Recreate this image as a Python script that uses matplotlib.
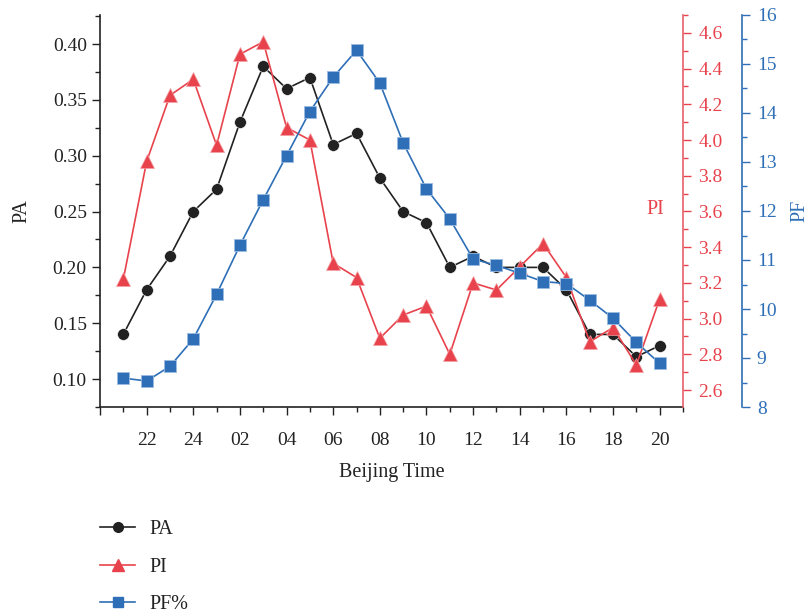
import matplotlib
matplotlib.use("Agg")
import matplotlib.pyplot as plt
from matplotlib.ticker import MultipleLocator, FixedLocator
from matplotlib.lines import Line2D

plt.rcParams['font.family'] = ['Liberation Serif', 'DejaVu Serif']

# hours 21 .. 20 (next day)
hours = ['21', '22', '23', '24', '01', '02', '03', '04', '05', '06', '07', '08',
         '09', '10', '11', '12', '13', '14', '15', '16', '17', '18', '19', '20']
tick_labels = ['', '22', '24', '02', '04', '06', '08', '10', '12', '14', '16', '18', '20']

pa = [0.14, 0.18, 0.21, 0.25, 0.27, 0.33, 0.38, 0.36, 0.37, 0.31, 0.32, 0.28,
      0.25, 0.24, 0.20, 0.21, 0.20, 0.20, 0.20, 0.18, 0.14, 0.14, 0.12, 0.13]
pi = [3.22, 3.88, 4.25, 4.34, 3.97, 4.48, 4.55, 4.07, 4.00, 3.31, 3.23, 2.89,
      3.02, 3.07, 2.80, 3.20, 3.16, 3.29, 3.42, 3.23, 2.87, 2.95, 2.74, 3.11]
pf = [8.59, 8.53, 8.83, 9.39, 10.30, 11.30, 12.23, 13.13, 14.03, 14.73, 15.28, 14.61,
      13.39, 12.45, 11.84, 11.02, 10.89, 10.73, 10.56, 10.52, 10.18, 9.81, 9.32, 8.89]

black = '#222222'
red = '#e8434c'
blue = '#2e6fb7'

fig = plt.figure(figsize=(8.09, 6.14), dpi=100)
ax = fig.add_axes([100/809, 1 - 407/614, 583/809, 392/614])
ax2 = ax.twinx()
ax3 = ax.twinx()
ax3.spines['right'].set_position(('axes', 1 + 58.5/583))

x = list(range(len(hours)))
ax.plot(x, pa, color=black, lw=1.2, marker='o', ms=8.5, mfc=black, mec='white', mew=0.4, zorder=3)
ax2.plot(x, pi, color=red, lw=1.2, marker='^', ms=9.5, mfc=red, mec='#f3a0a4', mew=0.5)
ax3.plot(x, pf, color=blue, lw=1.2, marker='s', ms=8, mfc=blue, mec='#9bbbe0', mew=0.6)

ax.set_xlim(-1, 24)
ax.set_ylim(0.075, 0.426)
ax2.set_ylim(2.505, 4.70)
ax3.set_ylim(8, 16)

ax.xaxis.set_major_locator(FixedLocator(list(range(-1, 24, 2))))
ax.set_xticklabels(tick_labels)
ax.xaxis.set_minor_locator(FixedLocator(list(range(0, 25, 2))))
ax.yaxis.set_major_locator(MultipleLocator(0.05))
ax.yaxis.set_minor_locator(MultipleLocator(0.025))
ax.yaxis.set_major_formatter(plt.FuncFormatter(lambda v, p: f'{v:.2f}'))
ax2.yaxis.set_major_locator(MultipleLocator(0.2))
ax2.yaxis.set_minor_locator(MultipleLocator(0.1))
ax2.yaxis.set_major_formatter(plt.FuncFormatter(lambda v, p: f'{v:.1f}'))
ax3.yaxis.set_major_locator(MultipleLocator(1))
ax3.yaxis.set_minor_locator(MultipleLocator(0.5))

for a in (ax, ax2, ax3):
    a.spines['top'].set_visible(False)
ax.spines['right'].set_visible(False)
ax2.spines['left'].set_visible(False)
ax3.spines['left'].set_visible(False)
ax2.spines['bottom'].set_visible(False)
ax3.spines['bottom'].set_visible(False)
ax.spines['left'].set_color(black)
ax.spines['bottom'].set_color(black)
ax2.spines['right'].set_color('#e8606a')
ax3.spines['right'].set_color(blue)
for s in (ax.spines['left'], ax.spines['bottom'], ax2.spines['right'], ax3.spines['right']):
    s.set_linewidth(1.2)

ax.tick_params(axis='both', which='major', length=6, width=1, labelsize=14, colors=black, direction='out')
ax.tick_params(axis='both', which='minor', length=3.5, width=1, colors=black, direction='out')
ax.tick_params(axis='x', which='major', pad=12)
ax2.tick_params(axis='y', which='major', length=6, width=1, labelsize=14, colors=red, pad=5)
ax2.tick_params(axis='y', which='minor', length=3.5, width=1, colors=red)
ax3.tick_params(axis='y', which='major', length=6, width=1, labelsize=14, colors=blue, pad=5)
ax3.tick_params(axis='y', which='minor', length=3.5, width=1, colors=blue)

ax.set_xlabel('Beijing Time', fontsize=14.5, color=black, labelpad=10)
ax.set_ylabel('PA', fontsize=14.5, color=black, labelpad=15)
ax.text(0.953, 0.503, 'PI', transform=ax.transAxes, ha='center', va='center', fontsize=14.5, color=red)
ax3.set_ylabel('PF', fontsize=14.5, color=blue, labelpad=10)

handles = [
    Line2D([], [], color=black, lw=1.2, marker='o', ms=7, mfc=black, mec=black),
    Line2D([], [], color=red, lw=1.2, marker='^', ms=8, mfc=red, mec=red),
    Line2D([], [], color=blue, lw=1.2, marker='s', ms=7, mfc=blue, mec=blue),
]
fig.legend(handles, ['PA', 'PI', 'PF%'], loc='upper left', bbox_to_anchor=(82/809, 1 - 502/614),
           frameon=False, fontsize=14.5, handlelength=1.75, labelspacing=0.92, handletextpad=0.7,
           labelcolor=black)

fig.savefig('out.png', dpi=100)
